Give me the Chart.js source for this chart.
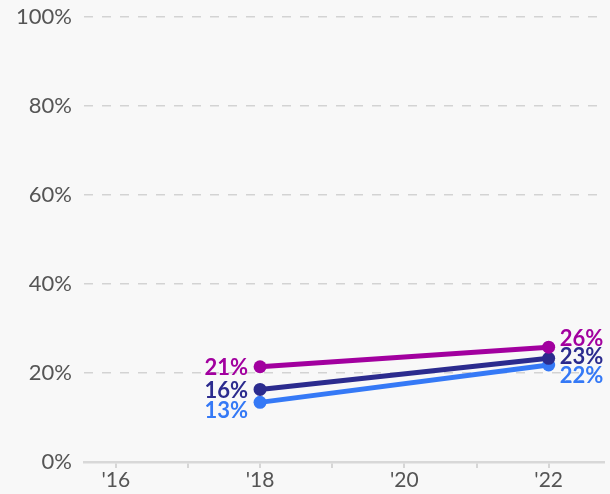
<!DOCTYPE html>
<html>
<head>
<meta charset="utf-8">
<script src="https://cdn.jsdelivr.net/npm/chart.js@4/dist/chart.umd.min.js"></script>
<style>
  html, body { margin: 0; padding: 0; background: #f8f8f8; }
  #wrap { width: 610px; height: 494px; position: relative; }
</style>
</head>
<body>
<div id="wrap"><canvas id="c" width="610" height="494"></canvas></div>
<script>
// Survey years (x positions) and shares per group, in percent
const years = [2018, 2022];
const seriesMagenta = [21.4, 25.8];
const seriesNavy = [16.3, 23.3];
const seriesBlue = [13.4, 21.8];
const xTickYears = [2016, 2018, 2020, 2022];
const yTicks = [0, 20, 40, 60, 80, 100];

const colors = { magenta: '#a2009f', navy: '#2b2b8e', blue: '#3579f6' };

// label placement offsets (pixels) for the start and end value labels
const labelOffsets = {
  magenta: { start: [-12, 1], end: [11, -8] },
  navy:    { start: [-12, 1], end: [11, -1] },
  blue:    { start: [-12, 9], end: [11, 11] }
};

function toPoints(vals) { return years.map((y, i) => ({ x: y, y: vals[i] })); }

function ds(label, vals, color, key) {
  return {
    label, key,
    data: toPoints(vals),
    borderColor: color, backgroundColor: color,
    borderWidth: 5, pointRadius: 6.5, pointHoverRadius: 6.5,
    pointBorderWidth: 0, tension: 0
  };
}

const endLabels = {
  id: 'endLabels',
  afterDatasetsDraw(chart) {
    const ctx = chart.ctx;
    ctx.save();
    ctx.font = 'bold 22px Lato';
    ctx.textBaseline = 'middle';
    chart.data.datasets.forEach((d, di) => {
      const meta = chart.getDatasetMeta(di);
      const off = labelOffsets[d.key];
      meta.data.forEach((pt, i) => {
        const txt = Math.round(d.data[i].y) + '%';
        const o = i === 0 ? off.start : off.end;
        ctx.fillStyle = d.borderColor;
        ctx.textAlign = i === 0 ? 'right' : 'left';
        ctx.fillText(txt, pt.x + o[0], pt.y + o[1]);
      });
    });
    ctx.restore();
  }
};

new Chart(document.getElementById('c'), {
  type: 'line',
  data: {
    datasets: [
      ds('Group A', seriesMagenta, colors.magenta, 'magenta'),
      ds('Group B', seriesNavy, colors.navy, 'navy'),
      ds('Group C', seriesBlue, colors.blue, 'blue')
    ]
  },
  options: {
    responsive: false,
    animation: false,
    layout: { padding: { top: 17, right: 0, bottom: 0, left: 0 } },
    plugins: { legend: { display: false }, tooltip: { enabled: false } },
    scales: {
      x: {
        type: 'linear',
        min: 2015.56, max: 2022.76,
        afterBuildTicks(axis) {
          axis.ticks = [];
          for (let y = 2016; y <= 2022; y++) axis.ticks.push({ value: y });
        },
        afterFit(axis) { axis.height = 32; axis.paddingLeft = 0; axis.paddingRight = 0; },
        ticks: {
          autoSkip: false, maxRotation: 0, padding: 0,
          color: '#555', font: { family: 'Lato', size: 21 },
          callback(v) { return xTickYears.includes(v) ? "'" + String(v).slice(2) : ''; }
        },
        grid: { drawOnChartArea: false, drawTicks: true, tickLength: 6, color: '#d6d6d6', lineWidth: 2 },
        border: { display: true, color: '#d8d8d8', width: 2.5 }
      },
      y: {
        min: 0, max: 100,
        afterBuildTicks(axis) { axis.ticks = yTicks.map(v => ({ value: v })); },
        afterFit(axis) { axis.width = 84; axis.paddingTop = 0; axis.paddingBottom = 0; },
        ticks: {
          padding: 12, color: '#555', font: { family: 'Lato', size: 22 },
          callback(v) { return v + '%'; }
        },
        grid: {
          color(ctx) { return ctx.tick && ctx.tick.value === 0 ? 'rgba(0,0,0,0)' : '#d3d3d3'; },
          lineWidth: 1.5, drawTicks: false
        },
        border: { display: false, dash: [9, 9] }
      }
    }
  },
  plugins: [endLabels]
});
</script>
</body>
</html>
